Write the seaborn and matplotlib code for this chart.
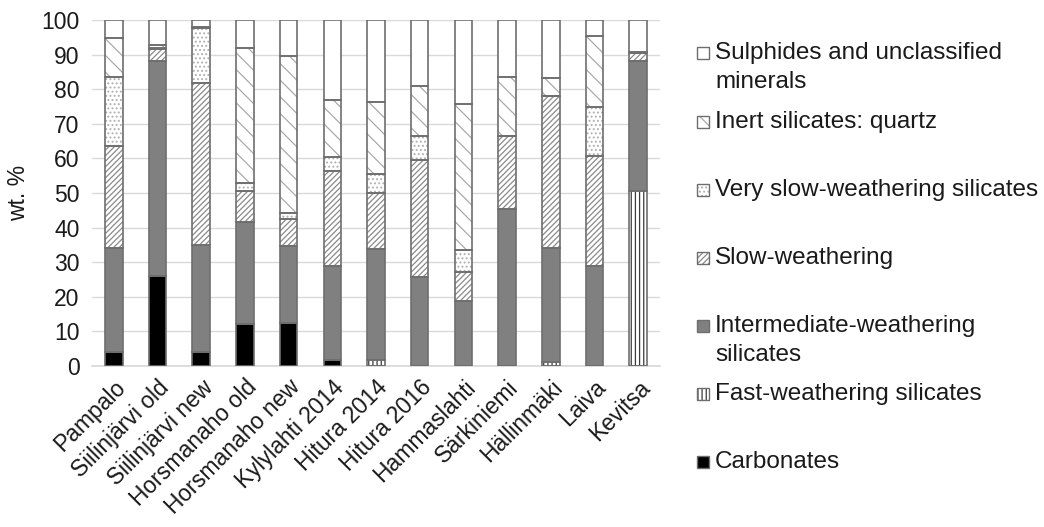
import numpy as np
import pandas as pd
import seaborn as sns
import matplotlib
matplotlib.use("Agg")
import matplotlib.pyplot as plt
from matplotlib.patches import Rectangle

sites = ["Pampalo", "Siilinjärvi old", "Siilinjärvi new", "Horsmanaho old",
         "Horsmanaho new", "Kylylahti 2014", "Hitura 2014", "Hitura 2016",
         "Hammaslahti", "Särkiniemi", "Hällinmäki", "Laiva", "Kevitsa"]

carbonates   = [4.0, 25.9, 4.0, 12.2, 12.5, 1.6, 0.0, 0.0, 0.0, 0.0, 0.0, 0.0, 0.0]
fast         = [0.0, 0.0, 0.0, 0.0, 0.0, 0.0, 1.6, 0.0, 0.0, 0.0, 1.2, 0.0, 50.6]
intermediate = [30.0, 62.3, 30.9, 29.3, 22.2, 27.2, 32.2, 25.6, 18.8, 45.5, 32.9, 28.8, 37.6]
slow         = [29.6, 3.3, 47.0, 9.1, 7.7, 27.5, 16.2, 33.9, 8.4, 21.0, 44.0, 32.0, 2.2]
very_slow    = [19.8, 0.5, 15.9, 2.3, 1.9, 4.2, 5.6, 7.0, 6.3, 0.0, 0.0, 14.1, 0.0]
quartz       = [11.3, 0.8, 0.3, 38.9, 45.4, 16.5, 20.8, 14.5, 42.1, 16.9, 5.0, 20.5, 0.3]
sulphides    = [5.3, 7.2, 1.9, 8.2, 10.3, 23.0, 23.6, 19.0, 24.4, 16.6, 16.9, 4.6, 9.3]

layer_names = ["Carbonates", "Fast-weathering silicates",
               "Intermediate-weathering\nsilicates", "Slow-weathering",
               "Very slow-weathering silicates", "Inert silicates: quartz",
               "Sulphides and unclassified\nminerals"]
layer_values = [carbonates, fast, intermediate, slow, very_slow, quartz, sulphides]

EDGE = "#6e6e6e"
styles = [
    dict(facecolor="black", hatch=None, hcolor="black"),
    dict(facecolor="white", hatch="||||", hcolor="#3a3a3a"),
    dict(facecolor="#808080", hatch=None, hcolor="#808080"),
    dict(facecolor="white", hatch="//////", hcolor="#8a8a8a"),
    dict(facecolor="white", hatch="....", hcolor="#b0b0b0"),
    dict(facecolor="white", hatch="\\\\", hcolor="#aaaaaa"),
    dict(facecolor="white", hatch=None, hcolor="white"),
]

sns.set_theme(style="white")
plt.rcParams["font.family"] = ["Liberation Sans", "DejaVu Sans"]
plt.rcParams["hatch.linewidth"] = 0.9

fig = plt.figure(figsize=(10.44, 5.27), dpi=100)
ax = fig.add_axes([92/1044, 1-366/527, (660-92)/1044, (366-20)/527])

bottom = np.zeros(len(sites))
for vals, st in zip(layer_values, styles):
    vals = np.array(vals)
    # fill + hatch (hatch colour taken from edgecolor)
    sns.barplot(x=sites, y=vals, order=sites, bottom=bottom, ax=ax,
                width=0.4, saturation=1, errorbar=None,
                color=st["facecolor"], edgecolor=st["hcolor"], linewidth=0,
                hatch=st["hatch"], zorder=3)
    # outline
    sns.barplot(x=sites, y=vals, order=sites, bottom=bottom, ax=ax,
                width=0.4, saturation=1, errorbar=None, color=EDGE,
                fill=False, edgecolor=EDGE, linewidth=1.2, zorder=4)
    bottom = bottom + vals

ax.set_ylim(0, 100)
ax.set_xlim(-0.5, len(sites) - 0.5)
ax.set_yticks(np.arange(0, 101, 10))
ax.yaxis.grid(True, color="#d9d9d9", linewidth=1, zorder=0)
ax.set_axisbelow(True)
for s in ["top", "right", "left"]:
    ax.spines[s].set_visible(False)
ax.spines["bottom"].set_color("#d9d9d9")
ax.tick_params(axis="both", length=0, labelsize=16.5, colors="#1a1a1a")
ax.tick_params(axis="y", pad=9)
ax.tick_params(axis="x", pad=7)
ax.set_xticks(range(len(sites)))
ax.set_xticklabels(sites, rotation=45, ha="right", rotation_mode="anchor")
ax.set_xlabel("")
ax.set_ylabel("wt. %", fontsize=16.5, color="#1a1a1a", labelpad=8)

# Legend (top to bottom, reverse stacking order)
leg_y = [53, 122, 190, 258, 326, 394, 462]
for name, st, yc in zip(layer_names[::-1], styles[::-1], leg_y):
    sq = 12
    r_fill = Rectangle((697/1044, 1-(yc+sq/2)/527), sq/1044, sq/527,
                       transform=fig.transFigure, facecolor=st["facecolor"],
                       hatch=st["hatch"], edgecolor=st["hcolor"], linewidth=0)
    r_edge = Rectangle((697/1044, 1-(yc+sq/2)/527), sq/1044, sq/527,
                       transform=fig.transFigure, fill=False,
                       edgecolor=EDGE, linewidth=1.0)
    fig.patches.append(r_fill)
    fig.patches.append(r_edge)
    lines = name.split("\n")
    for i, ln in enumerate(lines):
        fig.text(715/1044, 1-(yc + i*29)/527, ln, fontsize=17.5, va="center",
                 ha="left", color="#1a1a1a")

fig.savefig("out.png", dpi=100)
